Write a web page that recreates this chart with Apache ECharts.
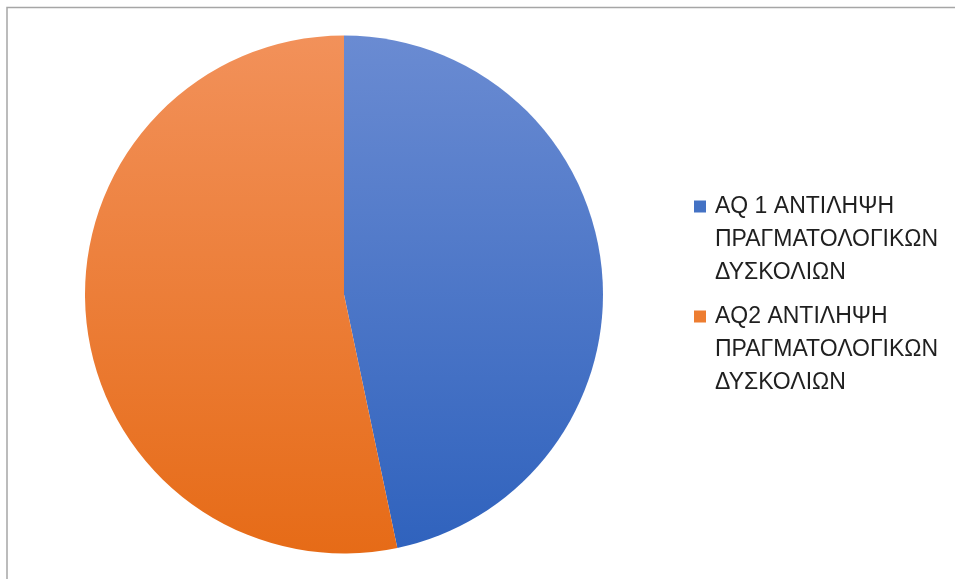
<!DOCTYPE html>
<html>
<head>
<meta charset="utf-8">
<script src="https://cdn.jsdelivr.net/npm/echarts@6/dist/echarts.min.js"></script>
<style>
  html, body { margin: 0; padding: 0; background: #ffffff; }
  #chart { width: 955px; height: 579px; }
</style>
</head>
<body>
<div id="chart"></div>
<script>
// Share of each group
const categories = [
  'AQ 1 ΑΝΤΙΛΗΨΗ ΠΡΑΓΜΑΤΟΛΟΓΙΚΩΝ ΔΥΣΚΟΛΙΩΝ',
  'AQ2 ΑΝΤΙΛΗΨΗ ΠΡΑΓΜΑΤΟΛΟΓΙΚΩΝ ΔΥΣΚΟΛΙΩΝ'
];
const values = [0.467, 0.533];
// How each legend entry is broken into lines
const legendLines = [
  ['AQ 1 ΑΝΤΙΛΗΨΗ', 'ΠΡΑΓΜΑΤΟΛΟΓΙΚΩΝ', 'ΔΥΣΚΟΛΙΩΝ'],
  ['AQ2 ΑΝΤΙΛΗΨΗ', 'ΠΡΑΓΜΑΤΟΛΟΓΙΚΩΝ', 'ΔΥΣΚΟΛΙΩΝ']
];

const gradients = [
  ['#6a8bd2', '#2f62bd'],
  ['#f2915a', '#e66b17']
];
const swatches = ['#4472c4', '#ed7d31'];

const chart = echarts.init(document.getElementById('chart'), null, { renderer: 'canvas' });

const fontFamily = 'Liberation Sans, Arial, sans-serif';

const rich = {
  s0: { width: 12, height: 12, backgroundColor: swatches[0] },
  s1: { width: 12, height: 12, backgroundColor: swatches[1] },
  gap: { width: 9 },
  ind: { width: 21 },
  t: { fontSize: 23, fontFamily: fontFamily, color: '#1f1f1f', lineHeight: 33 }
};

chart.setOption({
  animation: false,
  graphic: [{
    type: 'rect',
    shape: { x: 7, y: 7.5, width: 1200, height: 1200 },
    style: { fill: 'none', stroke: '#a6a6a6', lineWidth: 1.5 },
    silent: true
  }],
  legend: {
    orient: 'vertical',
    left: 684,
    top: 185,
    padding: 5,
    icon: 'none',
    itemWidth: 0,
    itemGap: 11,
    selectedMode: false,
    data: categories,
    formatter: function (name) {
      const i = categories.indexOf(name);
      const lines = legendLines[i];
      return lines.map(function (line, k) {
        return (k === 0 ? '{s' + i + '|}{gap|}' : '{ind|}') + '{t|' + line + '}';
      }).join('\n');
    },
    textStyle: { rich: rich, lineHeight: 33 }
  },
  series: [{
    type: 'pie',
    center: [344, 294.5],
    radius: 259,
    startAngle: 90,
    clockwise: true,
    label: { show: false },
    labelLine: { show: false },
    emphasis: { disabled: true },
    itemStyle: { borderWidth: 0 },
    data: categories.map(function (name, i) {
      return {
        name: name,
        value: values[i],
        itemStyle: {
          color: {
            type: 'linear', x: 0, y: 36, x2: 0, y2: 554, global: true,
            colorStops: [
              { offset: 0, color: gradients[i][0] },
              { offset: 1, color: gradients[i][1] }
            ]
          }
        }
      };
    })
  }]
});
</script>
</body>
</html>
